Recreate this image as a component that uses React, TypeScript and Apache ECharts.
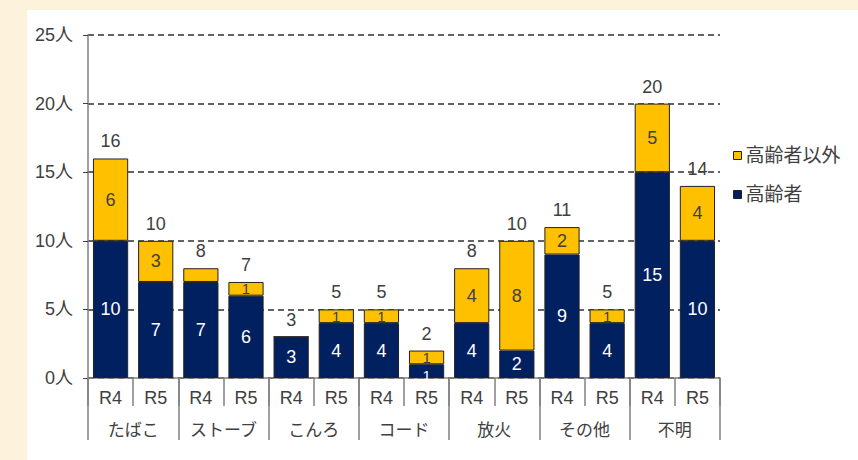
import React, { useEffect, useRef } from "react";
import * as echarts from "echarts";

const periods = ["R4", "R5", "R4", "R5", "R4", "R5", "R4", "R5", "R4", "R5", "R4", "R5", "R4", "R5"];
const causes = ["たばこ", "ストーブ", "こんろ", "コード", "放火", "その他", "不明"];
const elderly = [10, 7, 7, 6, 3, 4, 4, 1, 4, 2, 9, 4, 15, 10];
const nonElderly = [6, 3, 1, 1, 0, 1, 1, 1, 4, 8, 2, 1, 5, 4];
const totals = [16, 10, 8, 7, 3, 5, 5, 2, 8, 10, 11, 5, 20, 14];
const hiddenNonElderlyLabel = [2];

const FONT = "'Liberation Sans', Arial, 'Noto Sans CJK JP', sans-serif";
const TXT = "#404040";

export default function App() {
  const ref = useRef<HTMLDivElement>(null);
  useEffect(() => {
    document.body.style.margin = "0";
    const chart = echarts.init(ref.current!, null, { renderer: "svg" });
    const smallLabel = (v: number, extra: any) =>
      v === 1 ? { value: v, label: { fontSize: 15, ...extra } } : v;
    chart.setOption({
      animation: false,
      backgroundColor: "#fdf2dc",
      textStyle: { fontFamily: FONT },
      graphic: [
        { type: "rect", z: -10, shape: { x: 27, y: 10, width: 831, height: 450 }, style: { fill: "#ffffff" } },
      ],
      grid: { left: 88, right: 138, top: 35, bottom: 82 },
      legend: {
        orient: "vertical",
        left: 728,
        top: 141,
        itemWidth: 8,
        itemHeight: 8,
        itemGap: 20,
        itemStyle: { borderColor: "#222", borderWidth: 1 },
        icon: "rect",
        data: ["高齢者以外", "高齢者"],
        textStyle: { color: TXT, fontSize: 19, fontFamily: FONT, padding: [0, 0, 0, -1] },
      },
      xAxis: [
        {
          type: "category",
          data: periods,
          position: "bottom",
          axisLine: { lineStyle: { color: "#808080", width: 1.5 } },
          axisTick: { show: true, length: 28, interval: 0, lineStyle: { color: "#808080", width: 1.5 } },
          axisLabel: { interval: 0, margin: 11, fontSize: 18, color: TXT },
        },
        {
          type: "category",
          data: causes,
          position: "bottom",
          axisLine: { show: false },
          axisTick: { show: true, length: 62, interval: 0, lineStyle: { color: "#808080", width: 1.5 } },
          axisLabel: { interval: 0, margin: 44, fontSize: 17, color: TXT },
        },
      ],
      yAxis: {
        type: "value",
        min: 0,
        max: 25,
        interval: 5,
        axisLine: { show: true, lineStyle: { color: "#808080", width: 1.5 } },
        axisTick: { show: true, length: 5, lineStyle: { color: "#404040" } },
        axisLabel: { formatter: "{value}人", fontSize: 18, color: TXT, margin: 15 },
        splitLine: { lineStyle: { type: [6, 4], color: "#303030", width: 1.5 } },
      },
      series: [
        {
          name: "高齢者",
          type: "bar",
          stack: "t",
          barWidth: "78%",
          barGap: "-100%",
          data: elderly.map((v) => smallLabel(v, { offset: [0, 4] })),
          itemStyle: { color: "#002060", borderColor: "#222", borderWidth: 1 },
          label: {
            show: true,
            position: "inside",
            color: "#ffffff",
            fontSize: 18,
            formatter: (p: any) => (p.value ? String(p.value) : ""),
          },
        },
        {
          name: "高齢者以外",
          type: "bar",
          stack: "t",
          barWidth: "78%",
          barGap: "-100%",
          data: nonElderly.map((v, i) =>
            hiddenNonElderlyLabel.includes(i) ? { value: v, label: { show: false } } : smallLabel(v, {})
          ),
          itemStyle: { color: "#ffc000", borderColor: "#222", borderWidth: 1 },
          label: {
            show: true,
            position: "inside",
            color: TXT,
            fontSize: 18,
            formatter: (p: any) => (p.value ? String(p.value) : ""),
          },
        },
        {
          name: "合計",
          type: "bar",
          barWidth: "78%",
          barGap: "-100%",
          silent: true,
          z: 1,
          data: totals,
          itemStyle: { color: "rgba(0,0,0,0)" },
          label: { show: true, position: "top", distance: 8, color: TXT, fontSize: 18 },
        },
      ],
    });
    return () => chart.dispose();
  }, []);
  return <div ref={ref} style={{ width: 858, height: 460 }} />;
}
